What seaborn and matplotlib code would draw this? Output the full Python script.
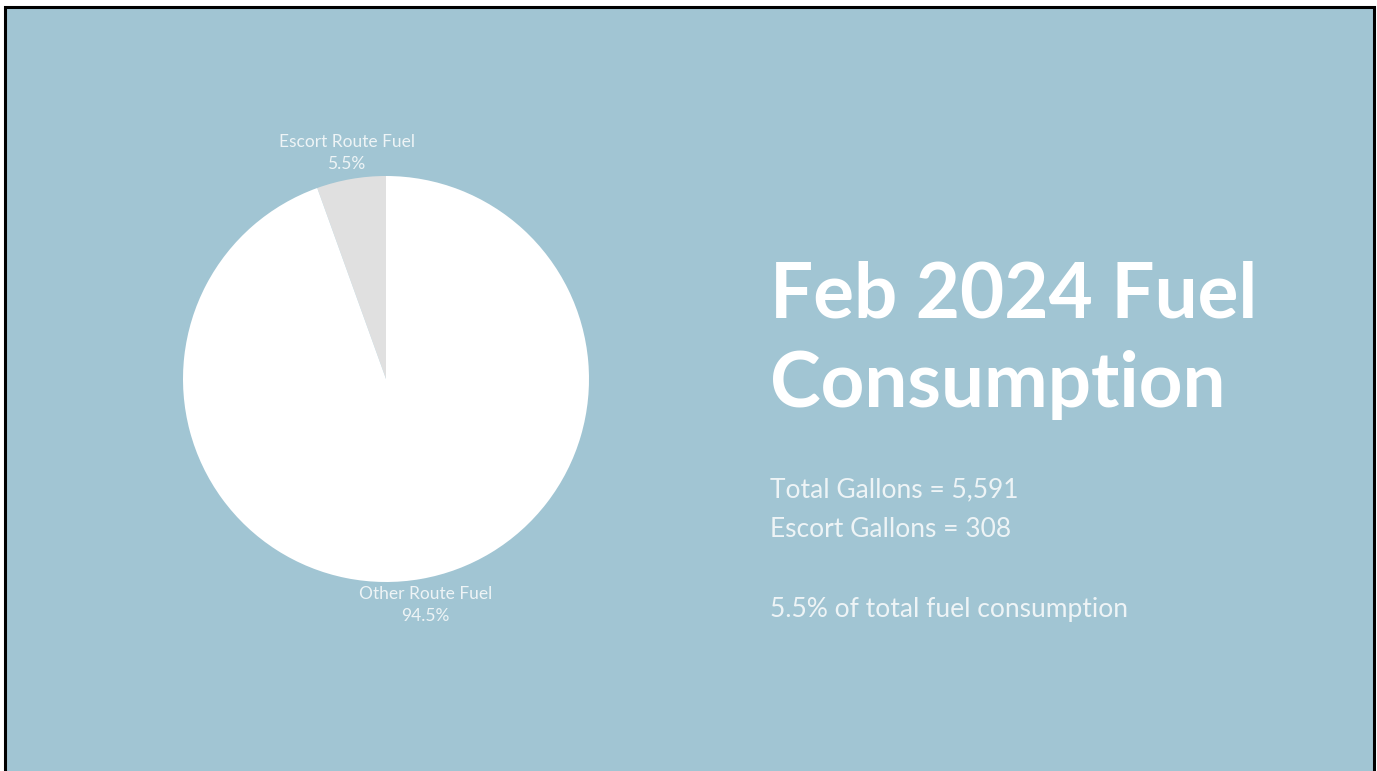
import matplotlib
matplotlib.use('Agg')
import matplotlib.pyplot as plt
import seaborn as sns
from matplotlib.patches import Rectangle

# data
categories = ['Escort Route Fuel', 'Other Route Fuel']
shares = [5.5, 94.5]
slice_colors = ['#e0e0e0', '#ffffff']
title_lines = ['Feb 2024 Fuel', 'Consumption']
total_gallons = '5,591'
escort_gallons = '308'

sns.set_theme(style='white')
plt.rcParams['font.family'] = ['Lato', 'DejaVu Sans']

W, H = 1377, 771
fig = plt.figure(figsize=(W / 100, H / 100), dpi=100, facecolor='white')

# slide background with black frame
bg = Rectangle((5 / W, -0.02), 1369 / W, (764 / H) + 0.02, transform=fig.transFigure,
               facecolor='#a1c5d3', edgecolor='black', linewidth=2.2, zorder=-5)
fig.patches.append(bg)

# pie
cx, cy, r = 386, 379, 203
ax = fig.add_axes([(cx - r) / W, (H - cy - r) / H, 2 * r / W, 2 * r / H], zorder=2)
ax.set_facecolor('none')
labels = [f'{c}\n{s}%' for c, s in zip(categories, shares)]
wedges, texts = ax.pie(shares, labels=labels, colors=slice_colors, startangle=90,
                       counterclock=True, labeldistance=1.13,
                       wedgeprops=dict(linewidth=0),
                       textprops=dict(color='#eef4f6', fontsize=12.5, linespacing=1.5))
for t in texts:
    t.set_horizontalalignment('center')
    t.set_verticalalignment('center')
    t.set_clip_on(False)
ax.set_xlim(-1, 1)
ax.set_ylim(-1, 1)
ax.set_aspect('equal')
ax.axis('off')

# title and notes
for line, base in zip(title_lines, [318, 407]):
    fig.text(770 / W, 1 - base / H, line, color='white', fontsize=55,
             fontweight='bold', ha='left', va='baseline')

note_kw = dict(color='#eef4f6', fontsize=19, ha='left', va='baseline')
fig.text(770 / W, 1 - 497 / H, f'Total Gallons = {total_gallons}', **note_kw)
fig.text(770 / W, 1 - 537 / H, f'Escort Gallons = {escort_gallons}', **note_kw)
fig.text(770 / W, 1 - 617 / H, f'{shares[0]}% of total fuel consumption', **note_kw)

fig.savefig('out.png', dpi=100, facecolor=fig.get_facecolor())
